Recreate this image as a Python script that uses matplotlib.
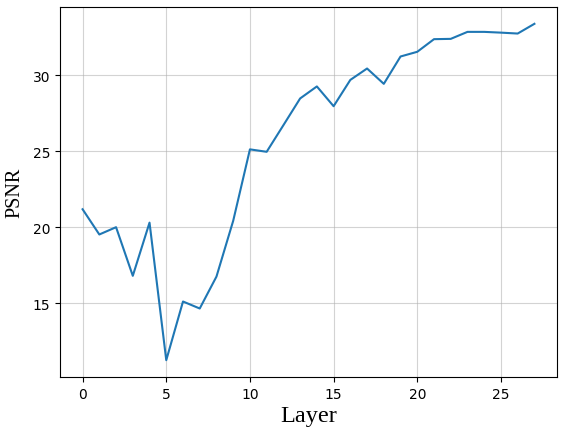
import matplotlib
matplotlib.use("Agg")
import matplotlib.pyplot as plt

layers = list(range(28))
psnr = [21.18, 19.52, 20.0, 16.8, 20.3, 11.25, 15.11, 14.65, 16.75, 20.42,
        25.12, 24.96, 26.71, 28.47, 29.26, 27.96, 29.69, 30.44, 29.43, 31.23,
        31.54, 32.37, 32.39, 32.85, 32.85, 32.8, 32.74, 33.38]

fig = plt.figure(figsize=(5.7, 4.31), dpi=100)
ax = fig.add_axes([60/570, 1-378/431, (557-60)/570, (378-8)/431])
ax.plot(layers, psnr, color="#1f77b4", linewidth=1.5)
ax.grid(True, color="#b0b0b0", alpha=0.55, linewidth=0.8)
ax.set_axisbelow(True)
ax.set_xlabel("Layer", family="Liberation Serif", fontsize=17.5, labelpad=3)
ax.set_ylabel("PSNR", family="Liberation Serif", fontsize=14.5, labelpad=6)
ax.tick_params(labelsize=10)
fig.savefig("out.png", dpi=100)
